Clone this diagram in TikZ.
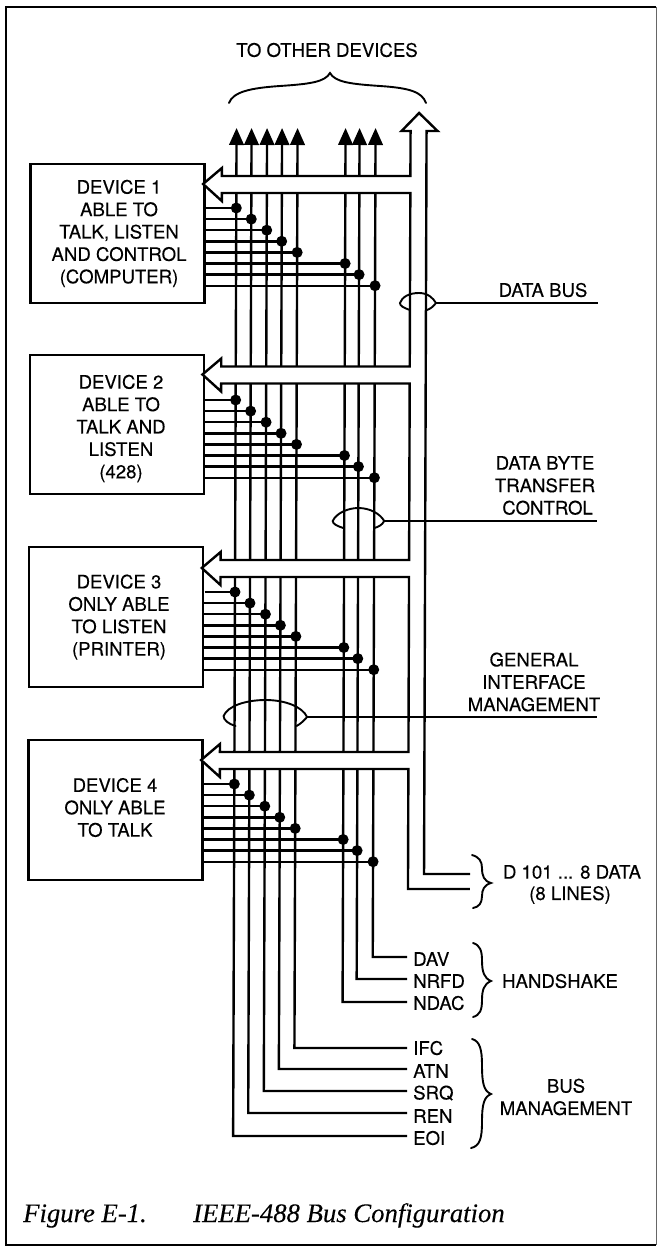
\documentclass[tikz,border=0pt]{standalone}
\usepackage{fontspec}
\setmainfont[FakeBold=0.25]{TeX Gyre Heros}
\newfontfamily\capfont[FakeBold=0.2]{Liberation Serif}
\usetikzlibrary{arrows.meta,calc}
\tikzset{
  sig/.style={line width=2.4pt,line cap=butt},
  thinline/.style={line width=1.9pt,line cap=round},
  devbox/.style={draw,line width=2.3pt,anchor=north west,minimum width=174pt,inner sep=0},
  devtext/.style={align=center,inner sep=0,font=\fontsize{18.6}{22.4}\selectfont},
  siglab/.style={anchor=west,inner xsep=6pt,inner ysep=0,font=\fontsize{18.6}{22}\selectfont},
  lab/.style={align=center,inner sep=0,font=\fontsize{18.6}{22.4}\selectfont},
  dot/.style={circle,fill=black,inner sep=0,minimum size=11pt},
  capt/.style={anchor=base west,inner sep=0,font=\capfont\itshape\fontsize{26.7}{28}\selectfont},
}
\begin{document}
\begin{tikzpicture}[x=1pt,y=-1pt]
\useasboundingbox (0,0) rectangle (657,1247);
% frame
\draw[line width=2.4pt] (656,7) -- (6,7) -- (6,1245) -- (656,1245);
\draw[line width=0.7pt,black!60] (656,7) -- (656,1245);
% labels
\node[lab] (other) at (327,50) {TO OTHER DEVICES};
\node[lab] (ldata) at (543,290) {DATA BUS};
\node[lab] (lbyte) at (545,485.5) {DATA BYTE\\TRANSFER\\\ CONTROL};
\node[lab] (lgen) at (534,682) {GENERAL\\INTERFACE\\MANAGEMENT};
\node[lab] (ld) at (572,872) {D 101 ... 8 DATA};
\node[lab] (ld2) at (570,895) {(8 LINES)};
\node[lab] (lhs) at (560,981) {HANDSHAKE};
\node[lab] (lbm) at (566,1097) {BUS\\MANAGEMENT};
\node[siglab] (s8) at (407,959) {DAV};
\node[siglab] (s7) at (407,981) {NRFD};
\node[siglab] (s6) at (407,1003) {NDAC};
\node[siglab] (s5) at (407,1048) {IFC};
\node[siglab] (s4) at (407,1071) {ATN};
\node[siglab] (s3) at (407,1093) {SRQ};
\node[siglab] (s2) at (407,1116) {REN};
\node[siglab] (s1) at (407,1138) {EOI};
\node[capt] (fig) at (23,1222) {Figure E-1.};
\node[capt] (figt) at (193,1222) {IEEE-488 Bus Configuration};
% device text
\node[devtext] (t1) at (119,233.5) {DEVICE 1\\ABLE TO\\TALK, LISTEN\\AND CONTROL\\(COMPUTER)};
\node[devtext] (t2) at (121,428.5) {DEVICE 2\\ABLE TO\\TALK AND\\LISTEN\\(428)};
\node[devtext] (t3) at (119,617) {DEVICE 3\\ONLY ABLE\\TO LISTEN\\(PRINTER)};
\node[devtext] (t4) at (115,807.5) {DEVICE 4\\ONLY ABLE\\TO TALK};
\begin{scope}[xslant=0.0034]
% device boxes
\foreach \d/\y/\h in {1/163/139,2/354/139,3/546/140,4/738.5/140}
  \node[devbox,minimum height=\h pt] (dev\d) at (30,\y) {};
% bus lines: each runs from the top arrow to its label
\foreach \i/\vx/\yb in {1/237/1136,2/252/1113,3/267.5/1091,4/282.5/1069,5/298/1048,6/346/1002,7/360/979,8/376/957}{
  \coordinate (vt\i) at (\vx,128);
  \coordinate (vb\i) at (\vx,\yb);
  \draw[sig,{Triangle[width=14.5pt,length=17pt]}-] (vt\i) -- (vb\i) -- (vb\i -| s\i.west);
}
% stubs and junction dots
\foreach \d/\y in {1/208,2/400,3/592,4/784}
  \foreach \i/\vx in {1/237,2/252,3/267.5,4/282.5,5/298,6/346,7/360,8/376}{
    \pgfmathsetmacro\yy{\y+11.1*(\i-1)}
    \node[dot] (J\d-\i) at (\vx,\yy) {};
    \draw[sig] (dev\d.east |- J\d-\i) -- (J\d-\i.center);
  }
% data bus outline, white inside
\draw[sig,fill=white,line join=miter]
  (473,874) -- (427,874) -- (427,131) -- (438,131) -- (419.5,113) -- (402,131) -- (411,131)
  -- (411,176) -- (222.5,176) -- (222.5,168) -- (203.7,184) -- (222.5,201) -- (222.5,193)
  -- (411,193) -- (411,366.5) -- (222.5,366.5) -- (222.5,358.5) -- (203.7,374.5) -- (222.5,391.5) -- (222.5,383.5)
  -- (411,383.5) -- (411,560) -- (222.5,560) -- (222.5,552) -- (203.7,568) -- (222.5,585) -- (222.5,577)
  -- (411,577) -- (411,752) -- (222.5,752) -- (222.5,744) -- (203.7,760) -- (222.5,777) -- (222.5,769)
  -- (411,769) -- (411,889) -- (473,889);
% loops and their lines
\coordinate (e1) at (599,303);
\coordinate (e2) at (599,521);
\coordinate (e3) at (599,717);
\coordinate (o1) at (437,303);
\coordinate (o2) at (386,521);
\coordinate (o3) at (309.5,717);
\draw[thinline] (411,310) .. controls (405,308) and (401,306) .. (401,303) .. controls (403,297) and (410,293) .. (420,293) .. controls (429,293) and (434,298) .. (o1) .. controls (434,307) and (431,309) .. (428,310);
\draw[thinline] (345,528) .. controls (339,526) and (334.5,524) .. (334.5,521) .. controls (338,513) and (350,508) .. (360,508) .. controls (372,508) and (382,514) .. (o2) .. controls (384,525) and (380,527) .. (376,528);
\draw[thinline] (238,726) .. controls (231,724) and (226,720) .. (226,716) .. controls (230,706) and (248,700) .. (268,700) .. controls (288,700) and (305,707) .. (o3) .. controls (307,720) and (303,724) .. (299,726);
\draw[sig] (o1) -- (e1);
\draw[sig] (o2) -- (e2);
\draw[sig] (o3) -- (e3);
\end{scope}
% braces
\coordinate (bt1) at (229,103);
\coordinate (bt2) at (426,103);
\draw[thinline] (bt1) .. controls (233,92) and (250,88) .. (280,86) .. controls (310,84) and (325,82) .. (330,73) .. controls (335,82) and (350,84) .. (380,86) .. controls (410,88) and (422,92) .. (bt2);
\draw[thinline] (472,855) .. controls (479,857) and (482,861) .. (482,868) .. controls (482,876) and (484,881) .. (491,883) .. controls (484,885) and (482,890) .. (482,896) .. controls (482,903) and (479,907) .. (473,908);
\draw[thinline] (473,943) .. controls (480,945) and (482,951) .. (482,960) .. controls (482,972) and (484,978) .. (491,981) .. controls (484,984) and (482,990) .. (482,1000) .. controls (482,1010) and (480,1015) .. (473,1017);
\draw[thinline] (472,1039) .. controls (480,1041) and (482,1050) .. (482,1065) .. controls (482,1084) and (484,1091) .. (491,1094) .. controls (484,1097) and (482,1104) .. (482,1122) .. controls (482,1138) and (480,1146) .. (471,1148);
\end{tikzpicture}
\end{document}
